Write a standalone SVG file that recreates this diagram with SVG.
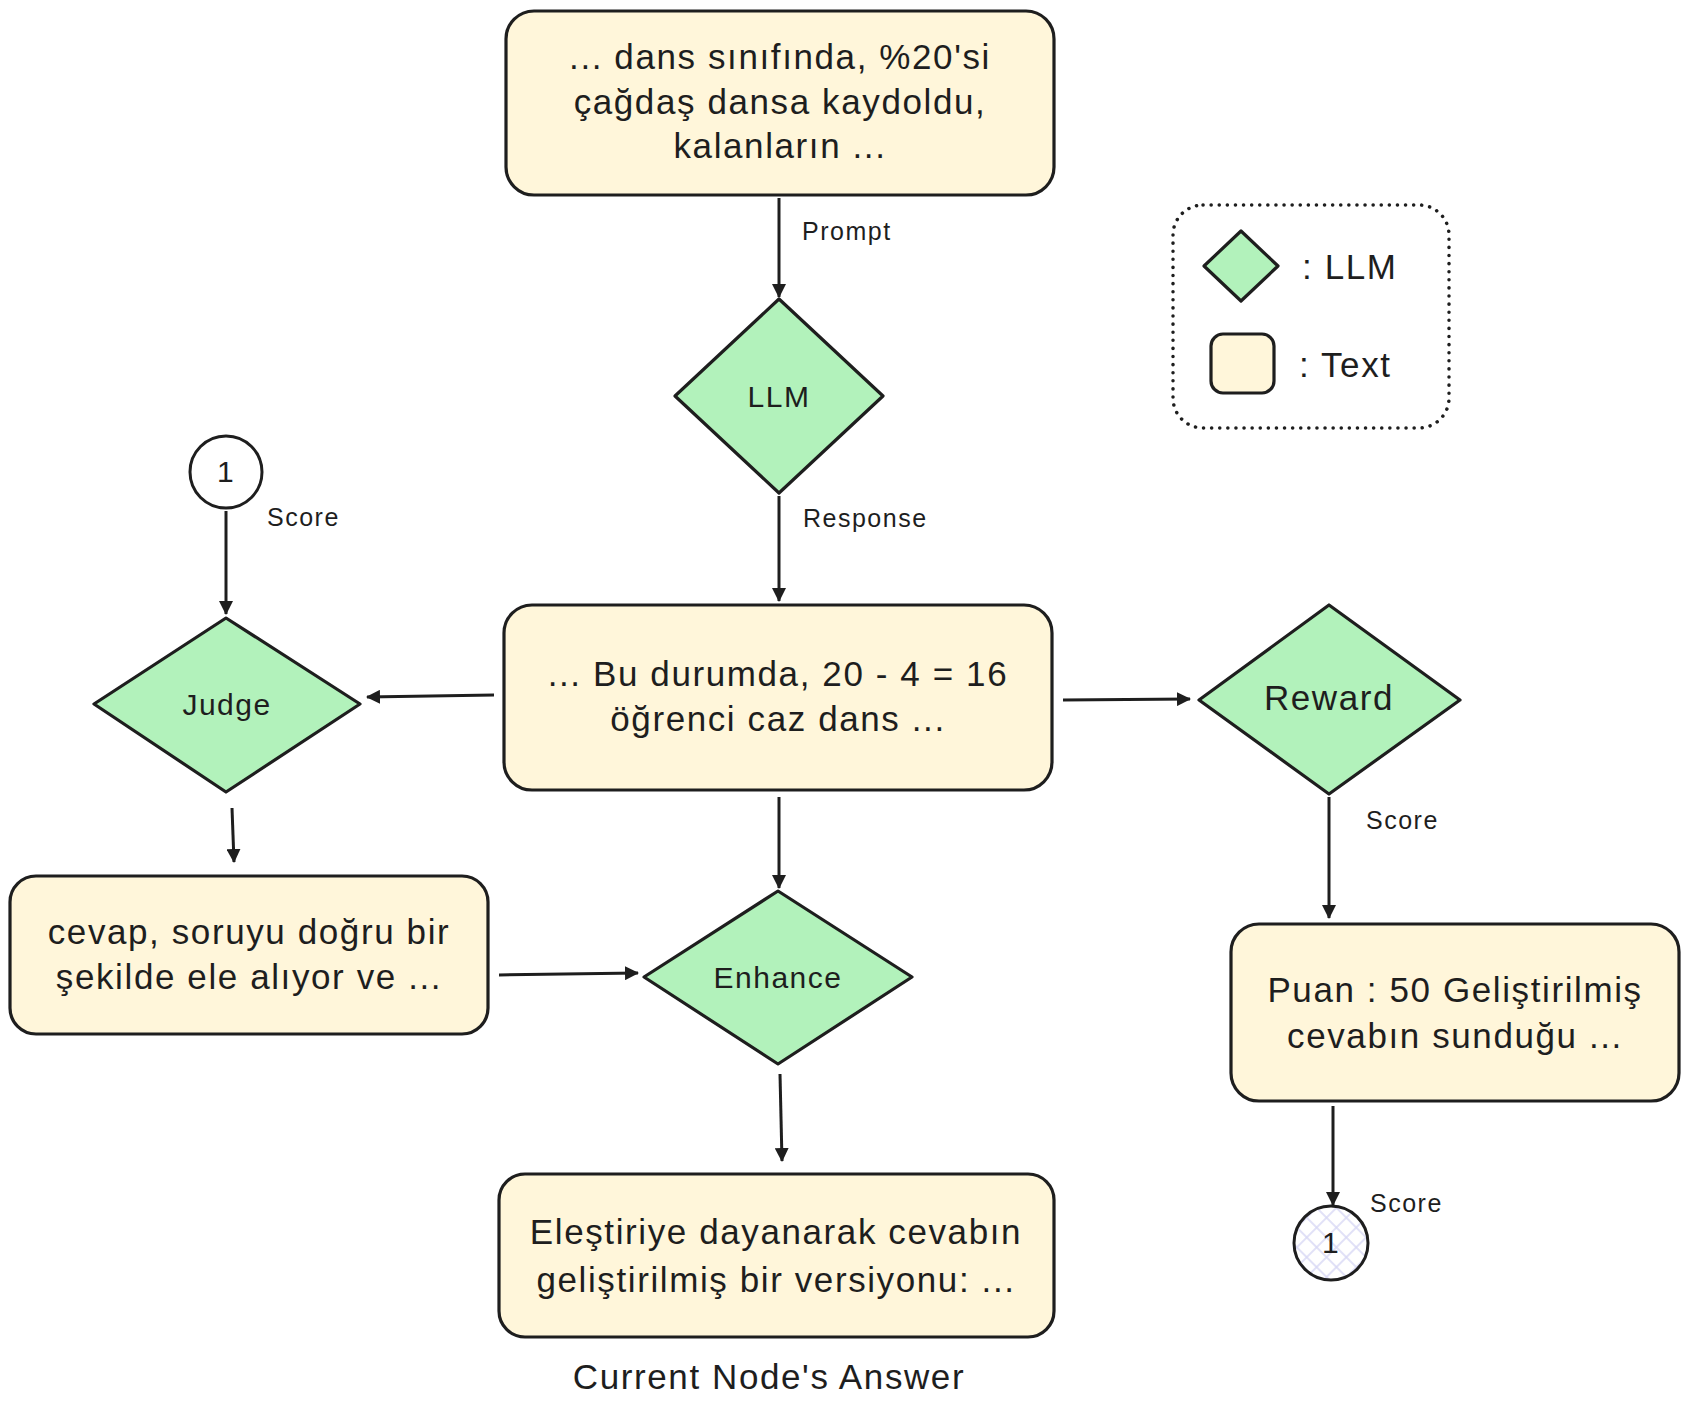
<svg xmlns="http://www.w3.org/2000/svg" width="1689" height="1409" viewBox="0 0 1689 1409">
<style>
.box{fill:#fff6da;stroke:#1e1e1e;stroke-width:3.2}
.dia{fill:#b2f2bb;stroke:#1e1e1e;stroke-width:3.2;stroke-linejoin:round}
.t{font-family:"Liberation Sans",Arial,sans-serif;fill:#1e1e1e;text-anchor:middle;dominant-baseline:central}
.big{font-size:35px;letter-spacing:1.6px}
.mid{font-size:30px;letter-spacing:1.5px}
.lab{font-size:25px;letter-spacing:1.5px;text-anchor:start}
.conn{stroke:#1e1e1e;stroke-width:3;fill:none;marker-end:url(#ah)}
</style>
<defs>
<marker id="ah" markerWidth="16" markerHeight="14" refX="13" refY="7" orient="auto" markerUnits="userSpaceOnUse">
<path d="M0,0 L14,7 L0,14 Z" fill="#1e1e1e"/>
</marker>
<pattern id="hatch" width="14" height="14" patternUnits="userSpaceOnUse" patternTransform="rotate(45)">
<rect width="14" height="14" fill="#ffffff"/>
<path d="M0,7 H14 M7,0 V14" stroke="#d8d8f5" stroke-width="1.5"/>
</pattern>
</defs>
<rect width="1689" height="1409" fill="#ffffff"/>

<g id="connectors">
<line class="conn" x1="779" y1="198" x2="779" y2="297"/>
<line class="conn" x1="779" y1="496" x2="779" y2="601"/>
<line class="conn" x1="226" y1="511" x2="226" y2="614"/>
<line class="conn" x1="494" y1="695" x2="367" y2="697"/>
<line class="conn" x1="232" y1="808" x2="234" y2="862"/>
<line class="conn" x1="499" y1="975" x2="638" y2="973"/>
<line class="conn" x1="779" y1="797" x2="779" y2="888"/>
<line class="conn" x1="780" y1="1074" x2="782" y2="1161"/>
<line class="conn" x1="1063" y1="700" x2="1190" y2="699"/>
<line class="conn" x1="1329" y1="797" x2="1329" y2="918"/>
<line class="conn" x1="1333" y1="1106" x2="1333" y2="1205"/>
<text class="t lab" x="802" y="231">Prompt</text>
<text class="t lab" x="803" y="518">Response</text>
<text class="t lab" x="267" y="517">Score</text>
<text class="t lab" x="1366" y="820">Score</text>
<text class="t lab" x="1370" y="1203">Score</text>
</g>

<g id="prompt">
<rect class="box" x="506" y="11" width="548" height="184" rx="28"/>
<text class="t big" x="780" y="56">... dans sınıfında, %20'si</text>
<text class="t big" x="780" y="101">çağdaş dansa kaydoldu,</text>
<text class="t big" x="780" y="145">kalanların ...</text>
</g>

<g id="llm">
<polygon class="dia" points="779,299 883,396 779,493 675,396"/>
<text class="t mid" x="779" y="396">LLM</text>
</g>

<g id="response">
<rect class="box" x="504" y="605" width="548" height="185" rx="28"/>
<text class="t big" x="778" y="673">... Bu durumda, 20 - 4 = 16</text>
<text class="t big" x="778" y="718">öğrenci caz dans ...</text>
</g>

<g id="score-in">
<circle cx="226" cy="472" r="36" fill="#ffffff" stroke="#1e1e1e" stroke-width="3"/>
<text class="t mid" x="226" y="471">1</text>
</g>

<g id="judge">
<polygon class="dia" points="226,618 360,704 226,792 94,704"/>
<text class="t mid" x="227" y="704">Judge</text>
</g>

<g id="critique">
<rect class="box" x="10" y="876" width="478" height="158" rx="26"/>
<text class="t big" x="249" y="931">cevap, soruyu doğru bir</text>
<text class="t big" x="249" y="976">şekilde ele alıyor ve ...</text>
</g>

<g id="enhance">
<polygon class="dia" points="778,891 912,977 778,1064 644,977"/>
<text class="t mid" x="778" y="977">Enhance</text>
</g>

<g id="answer">
<rect class="box" x="499" y="1174" width="555" height="163" rx="26"/>
<text class="t big" x="776" y="1231">Eleştiriye dayanarak cevabın</text>
<text class="t big" x="776" y="1279">geliştirilmiş bir versiyonu: ...</text>
<text class="t big" x="769" y="1376">Current Node's Answer</text>
</g>

<g id="reward">
<polygon class="dia" points="1329,605 1460,700 1329,794 1199,700"/>
<text class="t big" x="1329" y="697">Reward</text>
</g>

<g id="score-text">
<rect class="box" x="1231" y="924" width="448" height="177" rx="28"/>
<text class="t big" x="1455" y="989">Puan : 50 Geliştirilmiş</text>
<text class="t big" x="1455" y="1035">cevabın sunduğu ...</text>
</g>

<g id="score-out">
<circle cx="1331" cy="1243" r="37" fill="url(#hatch)" stroke="#1e1e1e" stroke-width="3"/>
<text class="t mid" x="1331" y="1242">1</text>
</g>

<g id="legend">
<rect x="1173" y="205" width="276" height="223" rx="30" fill="none" stroke="#1e1e1e" stroke-width="3.5" stroke-dasharray="0.1 8" stroke-linecap="round"/>
<polygon class="dia" points="1241,231 1278,266 1241,301 1204,266"/>
<text class="t big" x="1302" y="266" style="text-anchor:start">: LLM</text>
<rect class="box" x="1211" y="334" width="63" height="59" rx="12"/>
<text class="t big" x="1299" y="364" style="text-anchor:start">: Text</text>
</g>
</svg>
